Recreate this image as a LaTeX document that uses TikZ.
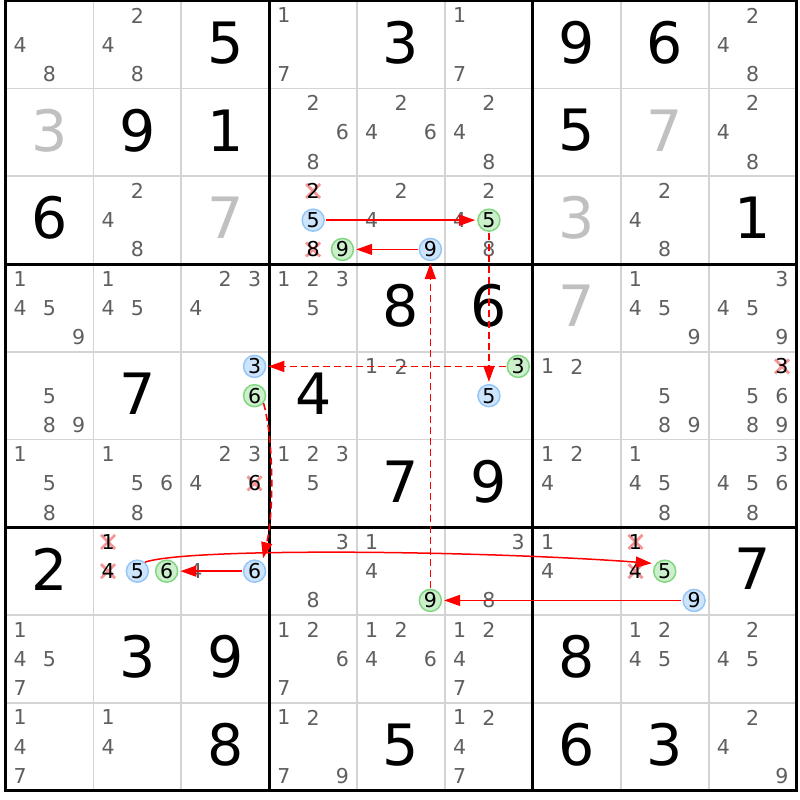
\documentclass[tikz,border=0pt]{standalone}
\usepackage{fontspec}
\setmainfont{DejaVu Sans}
\usetikzlibrary{arrows.meta}
\definecolor{candgray}{RGB}{95,95,95}
\definecolor{solvedgray}{RGB}{192,192,192}
\definecolor{thingray}{RGB}{212,212,212}
\definecolor{bluefill}{RGB}{204,228,252}
\definecolor{bluedraw}{RGB}{150,198,245}
\definecolor{greenfill}{RGB}{204,240,204}
\definecolor{greendraw}{RGB}{130,214,130}
\definecolor{xred}{RGB}{245,150,150}
\definecolor{arrowred}{RGB}{255,0,0}
\newcommand\sdkpos[3]{%
  \pgfmathsetmacro\sdkx{5.5+(#2-1)*87.9+(mod(#3-1,3)+0.5)*29.3}%
  \pgfmathsetmacro\sdky{0.8+(#1-1)*87.75+(floor((#3-1)/3)+0.5)*29.25}%
}
\newcommand\sdkcands[3]{%
  \foreach \d in {#3}{\sdkpos{#1}{#2}{\d}\node[cand] (r#1c#2n\d) at (\sdkx,\sdky) {\d};}}
\newcommand\sdkcirc[4]{%
  \sdkpos{#2}{#3}{#4}\node[#1] (r#2c#3n#4) at (\sdkx,\sdky) {#4};}
\newcommand\sdkcross[3]{%
  \sdkpos{#1}{#2}{#3}%
  \draw[xmark] (\sdkx,\sdky) +(-7,-7) -- +(7,7) (\sdkx,\sdky) +(-7,7) -- +(7,-7);
  \node[cand,text=black] (r#1c#2n#3) at (\sdkx,\sdky) {#3};}
\newcommand\sdkgiven[3]{%
  \node[given] (g#1#2) at ({5.5+(#2-0.5)*87.9},{0.8+(#1-0.5)*87.75-2}) {#3};}
\newcommand\sdksolved[3]{%
  \node[given,text=solvedgray] (g#1#2) at ({5.5+(#2-0.5)*87.9},{0.8+(#1-0.5)*87.75-2}) {#3};}
\begin{document}
\begin{tikzpicture}[x=1pt,y=-1pt,
  cand/.style={inner sep=0pt,text=candgray,font=\fontsize{20.5}{20.5}\selectfont},
  given/.style={inner sep=0pt,text=black,font=\fontsize{57}{57}\selectfont},
  bluec/.style={cand,text=black,circle,minimum size=22pt,fill=bluefill,draw=bluedraw,line width=1.5pt},
  greenc/.style={cand,text=black,circle,minimum size=22pt,fill=greenfill,draw=greendraw,line width=1.5pt},
  xmark/.style={xred,line width=2.8pt},
  thinline/.style={thingray,line width=1.8pt},
  thickline/.style={black,line width=3pt},
  solidarrow/.style={arrowred,line width=1.5pt,-{Triangle[length=16pt,width=11pt]},shorten >=2pt,shorten <=1pt},
  dasharrow/.style={solidarrow,line width=1.6pt,dash pattern=on 7pt off 4pt}]
\useasboundingbox (0,0) rectangle (800,800);
\fill[white] (0,0) rectangle (800,800);
% grid
\foreach \i in {1,2,4,5,7,8}{
  \draw[thinline] ({5.5+\i*87.9},0.8) -- ({5.5+\i*87.9},790.55);
  \draw[thinline] (5.5,{0.8+\i*87.75}) -- (796.6,{0.8+\i*87.75});
}
\foreach \i in {0,3,6,9}{
  \draw[thickline] ({5.5+\i*87.9},-0.7) -- ({5.5+\i*87.9},792.05);
  \draw[thickline] (4,{0.8+\i*87.75}) -- (798.1,{0.8+\i*87.75});
}
% givens
\sdkgiven{1}{3}{5}\sdkgiven{1}{5}{3}\sdkgiven{1}{7}{9}\sdkgiven{1}{8}{6}
\sdkgiven{2}{2}{9}\sdkgiven{2}{3}{1}\sdkgiven{2}{7}{5}
\sdkgiven{3}{1}{6}\sdkgiven{3}{9}{1}
\sdkgiven{4}{5}{8}\sdkgiven{4}{6}{6}
\sdkgiven{5}{2}{7}\sdkgiven{5}{4}{4}
\sdkgiven{6}{5}{7}\sdkgiven{6}{6}{9}
\sdkgiven{7}{1}{2}\sdkgiven{7}{9}{7}
\sdkgiven{8}{2}{3}\sdkgiven{8}{3}{9}\sdkgiven{8}{7}{8}
\sdkgiven{9}{3}{8}\sdkgiven{9}{5}{5}\sdkgiven{9}{7}{6}\sdkgiven{9}{8}{3}
\sdksolved{2}{1}{3}\sdksolved{2}{8}{7}\sdksolved{3}{3}{7}\sdksolved{3}{7}{3}\sdksolved{4}{7}{7}
% candidates
\sdkcands{1}{1}{4,8}\sdkcands{1}{2}{2,4,8}\sdkcands{1}{4}{1,7}\sdkcands{1}{6}{1,7}\sdkcands{1}{9}{2,4,8}
\sdkcands{2}{4}{2,6,8}\sdkcands{2}{5}{2,4,6}\sdkcands{2}{6}{2,4,8}\sdkcands{2}{9}{2,4,8}
\sdkcands{3}{2}{2,4,8}\sdkcands{3}{5}{2,4}\sdkcands{3}{6}{2,4,8}\sdkcands{3}{8}{2,4,8}
\sdkcross{3}{4}{2}\sdkcross{3}{4}{8}
\sdkcirc{bluec}{3}{4}{5}\sdkcirc{greenc}{3}{4}{9}\sdkcirc{bluec}{3}{5}{9}\sdkcirc{greenc}{3}{6}{5}
\sdkcands{4}{1}{1,4,5,9}\sdkcands{4}{2}{1,4,5}\sdkcands{4}{3}{2,3,4}\sdkcands{4}{4}{1,2,3,5}
\sdkcands{4}{8}{1,4,5,9}\sdkcands{4}{9}{3,4,5,9}
\sdkcands{5}{1}{5,8,9}\sdkcands{5}{5}{1,2}\sdkcands{5}{7}{1,2}\sdkcands{5}{8}{5,8,9}\sdkcands{5}{9}{5,6,8,9}
\sdkcross{5}{9}{3}
\sdkcirc{bluec}{5}{3}{3}\sdkcirc{greenc}{5}{3}{6}\sdkcirc{greenc}{5}{6}{3}\sdkcirc{bluec}{5}{6}{5}
\sdkcands{6}{1}{1,5,8}\sdkcands{6}{2}{1,5,6,8}\sdkcands{6}{3}{2,3,4}\sdkcands{6}{4}{1,2,3,5}
\sdkcands{6}{7}{1,2,4}\sdkcands{6}{8}{1,4,5,8}\sdkcands{6}{9}{3,4,5,6,8}
\sdkcross{6}{3}{6}
\sdkcands{7}{3}{4}\sdkcands{7}{4}{3,8}\sdkcands{7}{5}{1,4}\sdkcands{7}{6}{3,8}\sdkcands{7}{7}{1,4}
\sdkcross{7}{2}{1}\sdkcross{7}{2}{4}\sdkcross{7}{8}{1}\sdkcross{7}{8}{4}
\sdkcirc{bluec}{7}{2}{5}\sdkcirc{greenc}{7}{2}{6}\sdkcirc{bluec}{7}{3}{6}\sdkcirc{greenc}{7}{5}{9}
\sdkcirc{greenc}{7}{8}{5}\sdkcirc{bluec}{7}{8}{9}
\sdkcands{8}{1}{1,4,5,7}\sdkcands{8}{4}{1,2,6,7}\sdkcands{8}{5}{1,2,4,6}\sdkcands{8}{6}{1,2,4,7}
\sdkcands{8}{8}{1,2,4,5}\sdkcands{8}{9}{2,4,5}
\sdkcands{9}{1}{1,4,7}\sdkcands{9}{2}{1,4}\sdkcands{9}{4}{1,2,7,9}\sdkcands{9}{6}{1,2,4,7}\sdkcands{9}{9}{2,4,9}
% links
\draw[solidarrow] (r3c4n5) -- (r3c6n5);
\draw[solidarrow] (r3c5n9) -- (r3c4n9);
\draw[dasharrow] (r3c6n5) -- (r5c6n5);
\draw[dasharrow] (r5c6n3) -- (r5c3n3);
\draw[dasharrow,shorten >=4pt,shorten <=0pt] (r5c3n6.-40) .. controls +(10,35) and +(12,-50) .. (r7c3n6.50);
\draw[solidarrow] (r7c3n6) -- (r7c2n6);
\draw[solidarrow,shorten >=4pt,shorten <=0pt] (r7c2n5.50) .. controls +(44,-15) and +(-173,-13) .. (r7c8n5.140);
\draw[solidarrow] (r7c8n9) -- (r7c5n9);
\draw[dasharrow] (r7c5n9) -- (r3c5n9);
\end{tikzpicture}
\end{document}
